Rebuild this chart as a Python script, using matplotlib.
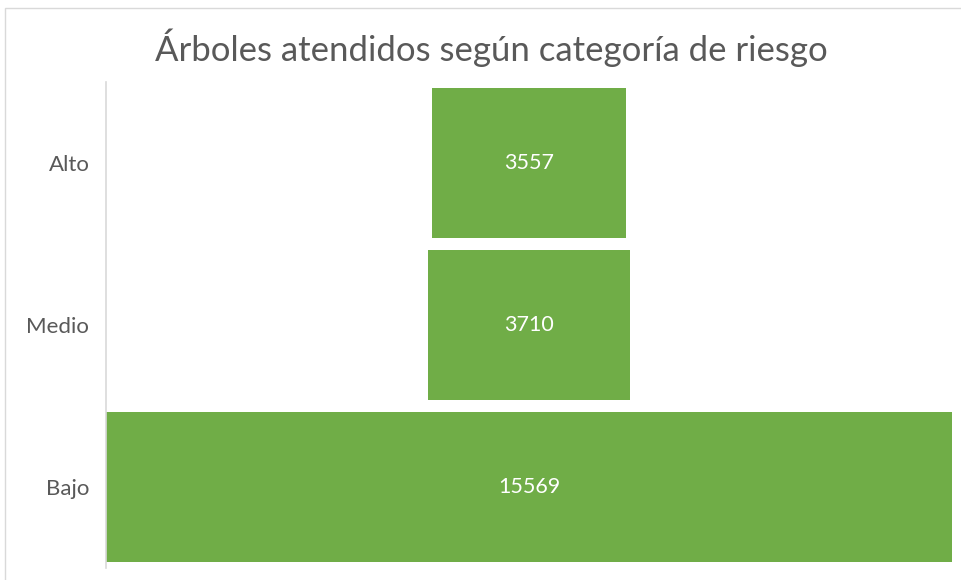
import matplotlib
matplotlib.use("Agg")
import matplotlib.pyplot as plt
from matplotlib.patches import Rectangle

categorias = ["Alto", "Medio", "Bajo"]
arboles = [3557, 3710, 15569]

VERDE = "#70AD47"
GRIS = "#595959"

plt.rcParams["font.family"] = ["Lato", "DejaVu Sans"]

fig = plt.figure(figsize=(9.61, 5.80), dpi=100)
ax = fig.add_axes([106 / 961, 12 / 580, 846 / 961, 486 / 580])

tope = max(arboles)
izq = [(tope - v) / 2 for v in arboles]
ypos = list(range(len(categorias)))
ax.barh(ypos, arboles, left=izq, height=0.92, color=VERDE)
for y, v, l in zip(ypos, arboles, izq):
    ax.text(l + v / 2, y, str(v), ha="center", va="center", color="white", fontsize=15.5)

ax.set_xlim(0, tope)
ax.set_ylim(len(categorias) - 0.5, -0.5)
ax.set_yticks(ypos)
ax.set_yticklabels(categorias, fontsize=16, color=GRIS)
ax.tick_params(axis="y", length=0, pad=12)
ax.set_xticks([])
for s in ["top", "right", "bottom"]:
    ax.spines[s].set_visible(False)
ax.spines["left"].set_color("#d9d9d9")
ax.spines["left"].set_linewidth(1.2)

fig.text(491 / 961, 1 - 48 / 580, "Árboles atendidos según categoría de riesgo",
         ha="center", va="center", fontsize=25, color=GRIS)

# borde del área del gráfico
fig.patches.append(Rectangle((5 / 961, -0.01), 1.0, 1 - 8 / 580 + 0.01, transform=fig.transFigure,
                             fill=False, edgecolor="#d9d9d9", linewidth=1))

fig.savefig("out.png", dpi=100)
